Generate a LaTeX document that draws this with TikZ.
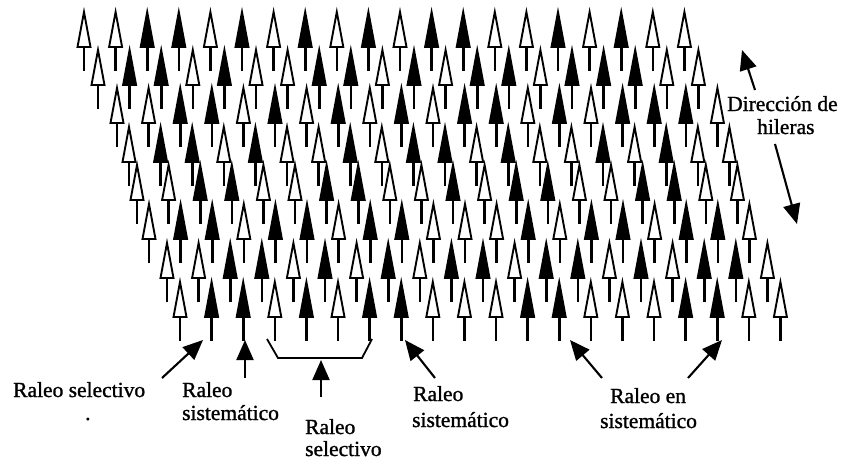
\documentclass[tikz,border=0pt]{standalone}
\usepackage{fontspec}
\setmainfont{Liberation Serif}
\newfontfamily\lblfont{Liberation Serif}[FakeBold=1.2]
\usetikzlibrary{arrows.meta}
\colorlet{tw}{white}
\colorlet{tb}{black}
\begin{document}
\begin{tikzpicture}[x=1pt,y=-1pt,
  treehead/.style={line width=1.9pt, line join=miter},
  treestem/.style={line width=2.6pt},
  pointer/.style={line width=2.1pt, -{Triangle[length=20pt,width=17pt]}},
  lbl/.style={font=\lblfont\fontsize{21.5}{24}\selectfont, inner sep=0pt, anchor=base west},
  pics/tree/.style={code={
    \draw[treestem] (0,34) -- (0,59);
    \draw[treehead, fill=#1] (0,0) -- (6.5,35) -- (-6.5,35) -- cycle;
  }},
]
\useasboundingbox (0,0) rectangle (842,460);

% eight slanted rows of twenty trees each (tw = kept, tb = marked)
\foreach \c [count=\i from 0] in {tw,tw,tb,tb,tw,tb,tw,tb,tw,tb,tw,tb,tb,tw,tw,tb,tw,tb,tw,tw}
  \pic at (84+31.6*\i,12) {tree=\c};
\foreach \c [count=\i from 0] in {tw,tb,tb,tw,tb,tw,tw,tb,tb,tw,tb,tw,tb,tb,tw,tb,tb,tb,tw,tw}
  \pic at (98+31.6*\i,50) {tree=\c};
\foreach \c [count=\i from 0] in {tw,tw,tb,tb,tw,tb,tw,tb,tw,tb,tw,tb,tb,tw,tb,tw,tb,tb,tb,tw}
  \pic at (117+31.6*\i,88) {tree=\c};
\foreach \c [count=\i from 0] in {tw,tb,tb,tw,tb,tw,tw,tb,tw,tb,tb,tw,tb,tw,tw,tb,tw,tb,tw,tw}
  \pic at (129+31.6*\i,127) {tree=\c};
\foreach \c [count=\i from 0] in {tw,tw,tb,tb,tw,tw,tb,tb,tw,tw,tb,tw,tb,tb,tw,tw,tb,tb,tw,tw}
  \pic at (137+31.6*\i,165) {tree=\c};
\foreach \c [count=\i from 0] in {tw,tb,tb,tw,tb,tb,tw,tb,tb,tw,tw,tw,tb,tw,tb,tb,tw,tb,tb,tw}
  \pic at (149+31.6*\i,204) {tree=\c};
\foreach \c [count=\i from 0] in {tw,tw,tb,tb,tw,tb,tw,tb,tw,tb,tb,tw,tb,tb,tw,tb,tw,tb,tb,tw}
  \pic at (167+31.6*\i,243) {tree=\c};
\foreach \c [count=\i from 0] in {tw,tb,tb,tw,tb,tw,tb,tb,tw,tw,tw,tb,tb,tw,tw,tw,tb,tb,tw,tw}
  \pic at (180+31.6*\i,282) {tree=\c};

% row direction note
\node[lbl] (dir1) at (727,111) {Dirección de};
\node[lbl] (dir2) at (757,134) {hileras};
\coordinate (upS) at (755,90);
\coordinate (upE) at (742,50);
\coordinate (dnS) at (775,144);
\coordinate (dnE) at (797,224);
\draw[pointer] (upS) -- (upE);
\draw[pointer] (dnS) -- (dnE);

% labels below the stand
\node[lbl] (sel1) at (13,397) {Raleo selectivo};
\node[lbl] (dot) at (85,420) {.};
\node[lbl] (sis1a) at (182,397) {Raleo};
\node[lbl] (sis1b) at (182,420) {sistemático};
\node[lbl] (sel2a) at (305,434) {Raleo};
\node[lbl] (sel2b) at (305,456) {selectivo};
\node[lbl] (sis2a) at (413,401) {Raleo};
\node[lbl] (sis2b) at (412,427) {sistemático};
\node[lbl] (ensa) at (610,403) {Raleo en};
\node[lbl] (ensb) at (600,428) {sistemático};

% pointers to the thinned trees
\coordinate (p1s) at (162,378); \coordinate (p1e) at (203,340);
\coordinate (p2s) at (245,378); \coordinate (p2e) at (245,340);
\coordinate (p3s) at (321,397); \coordinate (p3e) at (321,360);
\coordinate (p4s) at (435,378); \coordinate (p4e) at (405,340);
\coordinate (p5s) at (602,378); \coordinate (p5e) at (570,340);
\coordinate (p6s) at (688,378); \coordinate (p6e) at (722,340);
\foreach \k in {1,...,6}
  \draw[pointer] (p\k s) -- (p\k e);

% bracket grouping the selected trees
\coordinate (b1) at (267,339);
\coordinate (b2) at (278,358);
\coordinate (b3) at (362,358);
\coordinate (b4) at (372,339);
\draw[line width=1.8pt] (b1) -- (b2) -- (b3) -- (b4);
\end{tikzpicture}
\end{document}
